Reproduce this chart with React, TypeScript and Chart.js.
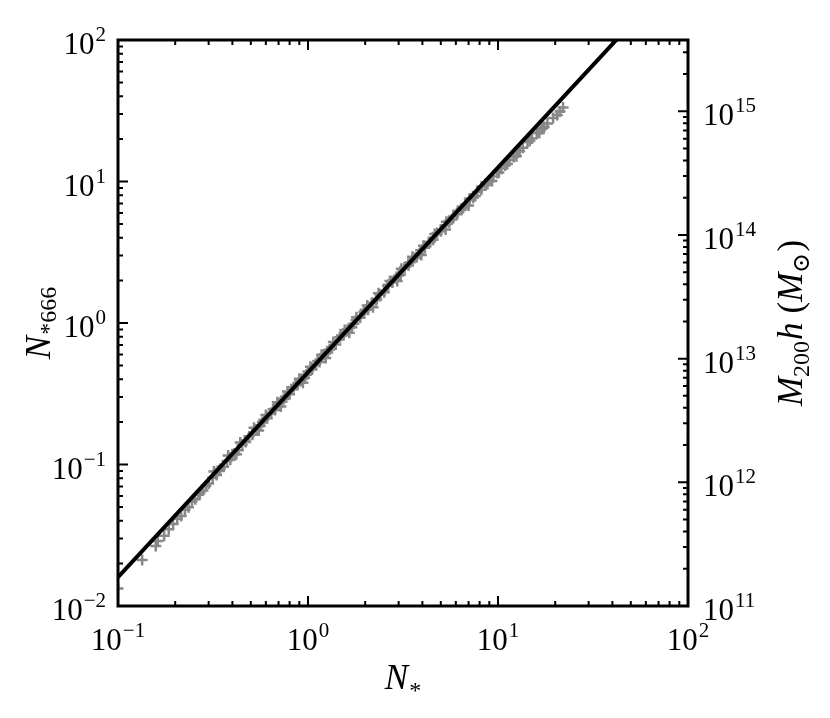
import React, { useEffect, useRef } from "react";
import { Chart, registerables } from "chart.js";

Chart.register(...registerables);

// ---- data ----
const nStar = [
  0.1, 0.134, 0.158, 0.162, 0.175, 0.185, 0.195, 0.205, 0.215, 0.225, 0.235, 0.245, 0.255,
  0.27, 0.28, 0.29, 0.3, 0.315, 0.33, 0.345, 0.36, 0.375, 0.39, 0.41, 0.43, 0.45, 0.47, 0.49,
  0.51, 0.535, 0.56, 0.585, 0.61, 0.64, 0.67, 0.7, 0.73, 0.76, 0.8, 0.84, 0.88, 0.92, 0.96,
  1.0, 1.05, 1.1, 1.15, 1.21, 1.27, 1.33, 1.4, 1.47, 1.54, 1.62, 1.7, 1.79, 1.88, 1.97, 2.07,
  2.17, 2.28, 2.4, 2.52, 2.65, 2.78, 2.92, 3.07, 3.22, 3.38, 3.55, 3.73, 3.92, 4.12, 4.33,
  4.55, 4.78, 5.02, 5.27, 5.53, 5.81, 6.1, 6.4, 6.72, 7.06, 7.41, 7.78, 8.17, 8.58, 9.01,
  9.46, 9.93, 10.4, 10.9, 11.5, 12.1, 12.8, 13.5, 14.3, 15.1, 16.0, 17.0, 18.2, 19.5, 21.2, 22.0,
  0.32, 0.38, 0.44, 0.52, 0.6, 0.69, 0.78, 0.9, 1.03, 1.18, 1.36, 1.56, 1.8, 2.05, 2.35, 2.7,
  3.1, 3.55, 4.05, 4.65, 5.35, 6.15, 7.1, 8.2,
  0.42, 0.55, 0.72, 0.94, 1.24, 1.65, 2.2, 2.95, 3.95, 5.3, 7.0, 9.3, 12.5, 16.5, 20.5,
  0.265, 0.335, 0.4, 0.465, 0.575, 0.655, 0.745, 0.86, 0.98, 1.125, 1.3, 1.5, 1.74, 2.0, 2.3,
  2.62, 3.0, 3.45, 3.85, 4.4, 5.0, 5.7, 6.55, 7.6, 8.8, 10.1, 11.2, 13.0, 14.7, 17.5,
];
const nStar666 = [
  0.0133, 0.0211, 0.0265, 0.0288, 0.0314, 0.0348, 0.038, 0.0413, 0.0432, 0.0478, 0.0498, 0.0547, 0.0568,
  0.063, 0.0656, 0.0706, 0.0733, 0.0805, 0.0843, 0.0929, 0.0966, 0.106, 0.108, 0.119, 0.126, 0.138, 0.144, 0.158,
  0.162, 0.177, 0.187, 0.207, 0.212, 0.232, 0.243, 0.271, 0.278, 0.302, 0.314, 0.352, 0.364, 0.398, 0.408,
  0.454, 0.47, 0.515, 0.531, 0.598, 0.619, 0.678, 0.705, 0.792, 0.82, 0.904, 0.933, 1.05, 1.09, 1.2, 1.24,
  1.39, 1.45, 1.59, 1.65, 1.86, 1.93, 2.11, 2.2, 2.47, 2.55, 2.81, 2.91, 3.27, 3.4, 3.74,
  3.88, 4.32, 4.53, 4.91, 5.15, 5.66, 5.86, 6.43, 6.75, 7.41, 7.69, 8.43, 8.75, 9.59, 10.1,
  10.9, 11.5, 12.4, 13.0, 14.2, 14.9, 16.4, 17.3, 19.0, 20.1, 22.1, 23.5, 25.7, 28.1, 31.3, 33.4,
  0.0893, 0.116, 0.143, 0.182, 0.224, 0.275, 0.328, 0.404, 0.491, 0.597, 0.735, 0.893, 1.1, 1.33, 1.62, 1.98,
  2.42, 2.94, 3.52, 4.25, 5.2, 6.21, 7.57, 9.2,
  0.118, 0.174, 0.257, 0.378, 0.565, 0.853, 1.29, 1.98, 3.03, 4.57, 6.76, 10.1, 15.1, 22.0, 29.5,
  0.0612, 0.0902, 0.118, 0.148, 0.199, 0.246, 0.29, 0.365, 0.431, 0.538, 0.649, 0.817, 0.989, 1.24, 1.48,
  1.83, 2.17, 2.69, 3.08, 3.74, 4.45, 5.38, 6.5, 7.89, 9.62, 11.6, 13.3, 16.4, 19.3, 24.3,
];
const fitNStar = [0.1, 100];
const fitN666 = [0.016, 352];

const xRange = [0.1, 100];
const yRange = [0.01, 100];
const massRange = [1e11, 3.77e15];

const xTickExps = ["\u22121", "0", "1", "2"];
const yTickExps = ["\u22122", "\u22121", "0", "1", "2"];
const massTickExps = ["11", "12", "13", "14", "15"];

const MAIN = "31px 'Liberation Serif', 'DejaVu Serif', serif";
const EXP = "21px 'Liberation Serif', 'DejaVu Serif', serif";
const ITAL = "italic 35px 'Liberation Serif', 'DejaVu Serif', serif";
const ROM = "35px 'Liberation Serif', 'DejaVu Serif', serif";
const SUB = "24px 'Liberation Serif', 'DejaVu Serif', 'DejaVu Sans', serif";

type Seg = { text: string; font: string; dy?: number; pre?: number };

function drawRich(ctx: CanvasRenderingContext2D, segs: Seg[], x: number, y: number, align: string) {
  let total = 0;
  for (const s of segs) {
    ctx.font = s.font;
    total += ctx.measureText(s.text).width + (s.pre || 0);
  }
  let cx = align === "left" ? x : align === "center" ? x - total / 2 : x - total;
  ctx.textAlign = "left";
  ctx.textBaseline = "alphabetic";
  for (const s of segs) {
    ctx.font = s.font;
    cx += s.pre || 0;
    ctx.fillText(s.text, cx, y + (s.dy || 0));
    cx += ctx.measureText(s.text).width;
  }
}

function pow10(exp: string): Seg[] {
  return [
    { text: "10", font: MAIN },
    { text: exp, font: EXP, dy: -13, pre: 1 },
  ];
}

function logTicks(min: number, max: number) {
  const out: { value: number; major: boolean }[] = [];
  const d0 = Math.floor(Math.log10(min) + 1e-9);
  const d1 = Math.ceil(Math.log10(max) - 1e-9);
  for (let d = d0; d <= d1; d++) {
    for (let m = 1; m <= 9; m++) {
      const v = m * Math.pow(10, d);
      if (v >= min * (1 - 1e-9) && v <= max * (1 + 1e-9)) out.push({ value: v, major: m === 1 });
    }
  }
  return out;
}

const framePlugin = {
  id: "framePlugin",
  afterDraw(chart: any) {
    const ctx: CanvasRenderingContext2D = chart.ctx;
    const { left, right, top, bottom } = chart.chartArea;
    const xs = chart.scales.x;
    const ys = chart.scales.y;
    const ms = chart.scales.y2;
    const MAJ = 10;
    const MIN = 5;
    ctx.save();
    ctx.strokeStyle = "#000";
    ctx.fillStyle = "#000";
    ctx.lineWidth = 2;
    ctx.beginPath();
    for (const t of logTicks(xs.min, xs.max)) {
      const px = xs.getPixelForValue(t.value);
      const L = t.major ? MAJ : MIN;
      ctx.moveTo(px, bottom);
      ctx.lineTo(px, bottom - L);
      ctx.moveTo(px, top);
      ctx.lineTo(px, top + L);
    }
    for (const t of logTicks(ys.min, ys.max)) {
      const py = ys.getPixelForValue(t.value);
      const L = t.major ? MAJ : MIN;
      ctx.moveTo(left, py);
      ctx.lineTo(left + L, py);
    }
    for (const t of logTicks(ms.min, ms.max)) {
      const py = ms.getPixelForValue(t.value);
      const L = t.major ? MAJ : MIN;
      ctx.moveTo(right, py);
      ctx.lineTo(right - L, py);
    }
    ctx.stroke();
    ctx.lineWidth = 3;
    ctx.strokeRect(left, top, right - left, bottom - top);

    // tick labels
    xTickExps.forEach((e, i) => {
      const px = xs.getPixelForValue(Math.pow(10, i - 1));
      drawRich(ctx, pow10(e), px, bottom + 44, "center");
    });
    yTickExps.forEach((e, i) => {
      const py = ys.getPixelForValue(Math.pow(10, i - 2));
      drawRich(ctx, pow10(e), left - 12, py + 14, "right");
    });
    massTickExps.forEach((e, i) => {
      const py = ms.getPixelForValue(Math.pow(10, i + 11));
      drawRich(ctx, pow10(e), right + 15, py + 14, "left");
    });

    // axis titles
    drawRich(
      ctx,
      [
        { text: "N", font: ITAL },
        { text: "*", font: SUB, dy: 9, pre: 1 },
      ],
      (left + right) / 2,
      bottom + 83,
      "center"
    );
    ctx.save();
    ctx.translate(50, (top + bottom) / 2);
    ctx.rotate(-Math.PI / 2);
    drawRich(
      ctx,
      [
        { text: "N", font: ITAL },
        { text: "*666", font: SUB, dy: 6, pre: 1 },
      ],
      0,
      0,
      "center"
    );
    ctx.restore();
    ctx.save();
    ctx.translate(802, (top + bottom) / 2);
    ctx.rotate(-Math.PI / 2);
    drawRich(
      ctx,
      [
        { text: "M", font: ITAL },
        { text: "200", font: SUB, dy: 7 },
        { text: "h", font: ITAL, pre: 1 },
        { text: "(", font: ROM, pre: 9 },
        { text: "M", font: ITAL },
        { text: "\u2299", font: SUB, dy: 7 },
        { text: ")", font: ROM, pre: 1 },
      ],
      0,
      0,
      "center"
    );
    ctx.restore();
    ctx.restore();
  },
};

export default function App() {
  const ref = useRef<HTMLCanvasElement | null>(null);
  useEffect(() => {
    if (!ref.current) return;
    const scatter = nStar.map((x, i) => ({ x, y: nStar666[i] }));
    const fit = fitNStar.map((x, i) => ({ x, y: fitN666[i] }));
    const hidden = {
      ticks: { display: false, padding: 0 },
      grid: { display: false, drawTicks: false, tickLength: 0 },
      border: { display: false },
      title: { display: false },
    };
    const chart = new Chart(ref.current, {
      type: "scatter",
      data: {
        datasets: [
          {
            label: "fit",
            data: fit,
            showLine: true,
            borderColor: "#000",
            borderWidth: 4,
            pointRadius: 0,
            yAxisID: "y",
          },
          {
            label: "clusters",
            data: scatter,
            showLine: false,
            pointStyle: "cross",
            pointRadius: 5.5,
            borderWidth: 2.5,
            borderColor: "#888888",
            backgroundColor: "#888888",
            yAxisID: "y",
          },
        ],
      },
      options: {
        responsive: false,
        animation: false,
        layout: { padding: { left: 118, right: 142, top: 40, bottom: 112 } },
        plugins: { legend: { display: false }, tooltip: { enabled: false } },
        scales: {
          x: { type: "logarithmic", position: "bottom", min: xRange[0], max: xRange[1], ...hidden },
          y: { type: "logarithmic", position: "left", min: yRange[0], max: yRange[1], ...hidden },
          y2: { type: "logarithmic", position: "right", min: massRange[0], max: massRange[1], ...hidden },
        },
      } as any,
      plugins: [framePlugin],
    });
    return () => chart.destroy();
  }, []);
  return (
    <div style={{ position: "fixed", left: 0, top: 0, width: 830, height: 718, background: "#fff" }}>
      <canvas ref={ref} width={830} height={718} style={{ display: "block" }} />
    </div>
  );
}
